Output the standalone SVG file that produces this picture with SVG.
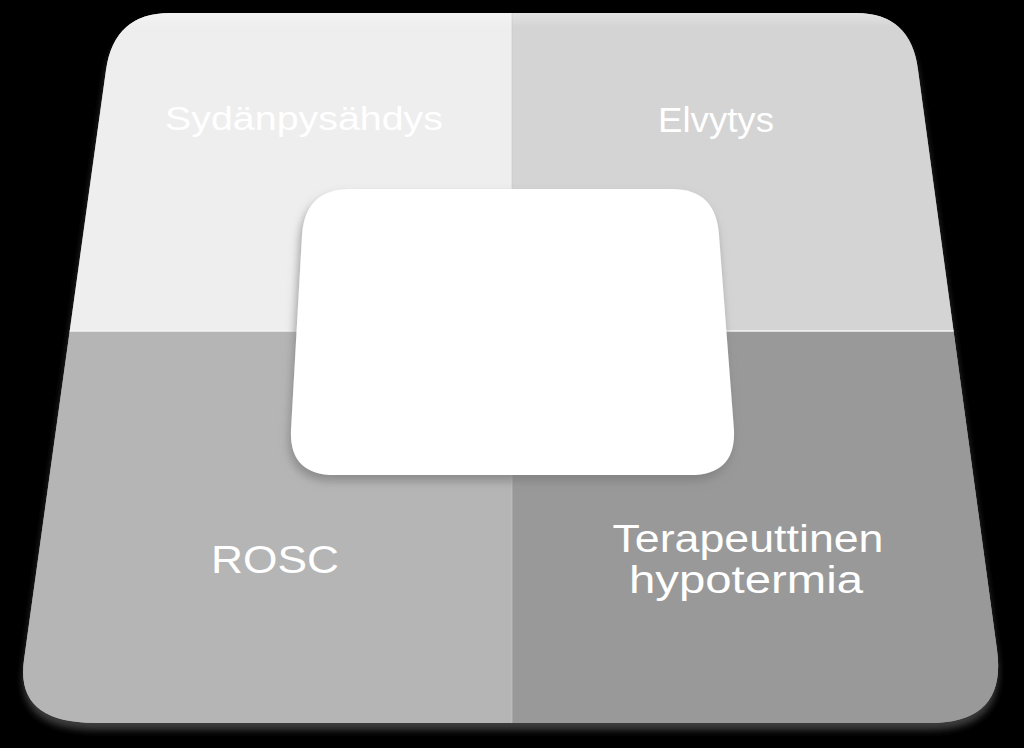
<svg xmlns="http://www.w3.org/2000/svg" width="1024" height="748" viewBox="0 0 1024 748">
  <defs>
    <style>
      .lbl { font-family: "Liberation Sans", Arial, sans-serif; fill: #ffffff; text-anchor: middle; }
    </style>
    <clipPath id="outerClip">
      <path d="M170,13 L856,13 Q911,13 918,70 L997,650 Q1007,723 930,723 L95,723 Q15,723 24,660 L106,70 Q114,13 170,13 Z"/>
    </clipPath>
    <filter id="outerShadow" x="-10%" y="-10%" width="120%" height="125%">
      <feDropShadow dx="0" dy="7" stdDeviation="3.5" flood-color="#3c3c3c" flood-opacity="1"/>
    </filter>
    <filter id="boxShadow" x="-10%" y="-10%" width="120%" height="130%">
      <feDropShadow dx="-2" dy="6" stdDeviation="5" flood-color="#7a7a7a" flood-opacity="0.7"/>
    </filter>
    <linearGradient id="topBevel" x1="0" y1="0" x2="0" y2="1">
      <stop offset="0" stop-color="#ffffff" stop-opacity="0.35"/>
      <stop offset="1" stop-color="#ffffff" stop-opacity="0"/>
    </linearGradient>
  </defs>

  <rect x="0" y="0" width="1024" height="748" fill="#000000"/>

  <g id="base">
    <path d="M170,13 L856,13 Q911,13 918,70 L997,650 Q1007,723 930,723 L95,723 Q15,723 24,660 L106,70 Q114,13 170,13 Z" fill="#999999" filter="url(#outerShadow)"/>
  </g>

  <g clip-path="url(#outerClip)">
    <g id="q-sydanpysahdys">
      <rect x="0" y="0" width="512" height="331" fill="#eeeeee"/>
      <text class="lbl" x="304" y="130" font-size="34" textLength="278" lengthAdjust="spacingAndGlyphs">Sydänpysähdys</text>
    </g>
    <g id="q-elvytys">
      <rect x="512" y="0" width="512" height="331" fill="#d4d4d4"/>
      <text class="lbl" x="716" y="132" font-size="35" textLength="116" lengthAdjust="spacingAndGlyphs">Elvytys</text>
    </g>
    <g id="q-rosc">
      <rect x="0" y="331" width="512" height="417" fill="#b5b5b5"/>
      <text class="lbl" x="275" y="573" font-size="39" textLength="128" lengthAdjust="spacingAndGlyphs">ROSC</text>
    </g>
    <g id="q-hypotermia">
      <rect x="512" y="331" width="512" height="417" fill="#999999"/>
      <text class="lbl" x="748" y="552" font-size="38" textLength="271" lengthAdjust="spacingAndGlyphs">Terapeuttinen</text>
      <text class="lbl" x="746" y="593" font-size="38" textLength="234" lengthAdjust="spacingAndGlyphs">hypotermia</text>
    </g>
    <rect x="0" y="13" width="1024" height="14" fill="url(#topBevel)"/>
  </g>

  <g id="connectors">
    <line x1="0" y1="331" x2="1024" y2="331" stroke="#f4f4f4" stroke-width="1.5" clip-path="url(#outerClip)"/>
    <line x1="512" y1="13" x2="512" y2="723" stroke="#c8c8c8" stroke-width="1" opacity="0.6" clip-path="url(#outerClip)"/>
  </g>

  <g id="center">
    <path d="M350,189 L672,189 Q716,189 719,235 L734,430 Q736,475 690,475 L335,475 Q289,475 291,430 L302,235 Q305,189 350,189 Z" fill="#ffffff" filter="url(#boxShadow)"/>
  </g>
</svg>
